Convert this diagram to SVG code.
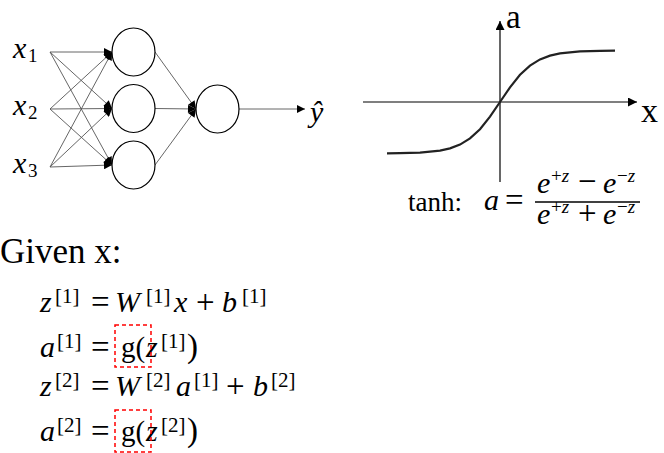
<svg xmlns="http://www.w3.org/2000/svg" width="664" height="453" viewBox="0 0 664 453">
<style>
text{font-family:"Liberation Serif","Times New Roman",serif;fill:#000}
.node{fill:#fff;stroke:#000;stroke-width:1.2}
.edge{stroke:#555;stroke-width:0.9;fill:none}
.axis{stroke:#000;stroke-width:1.2;fill:none}
.mi{font-style:italic;font-size:30px}
.mr{font-size:33px}
.sup{font-size:21px}
.fs{font-size:19px}
.box{fill:none;stroke:#f00;stroke-width:1.5;stroke-dasharray:4 3}
</style>
<defs>
<marker id="ah" viewBox="0 0 10 10" refX="10" refY="5" markerWidth="9" markerHeight="8" markerUnits="userSpaceOnUse" orient="auto"><path d="M0,0 L10,5 L0,10 z" fill="#000"/></marker>
<marker id="ax" viewBox="0 0 10 10" refX="10" refY="5" markerWidth="11" markerHeight="9" markerUnits="userSpaceOnUse" orient="auto"><path d="M0,0 L10,5 L0,10 z" fill="#000"/></marker>
</defs>

<g id="connectors">
<line class="edge" x1="50" y1="52" x2="112" y2="52" marker-end="url(#ah)"/>
<line class="edge" x1="50" y1="52" x2="112" y2="108.5" marker-end="url(#ah)"/>
<line class="edge" x1="50" y1="52" x2="112" y2="165" marker-end="url(#ah)"/>
<line class="edge" x1="50" y1="109" x2="112" y2="52" marker-end="url(#ah)"/>
<line class="edge" x1="50" y1="109" x2="112" y2="108.5" marker-end="url(#ah)"/>
<line class="edge" x1="50" y1="109" x2="112" y2="165" marker-end="url(#ah)"/>
<line class="edge" x1="50" y1="167" x2="112" y2="52" marker-end="url(#ah)"/>
<line class="edge" x1="50" y1="167" x2="112" y2="108.5" marker-end="url(#ah)"/>
<line class="edge" x1="50" y1="167" x2="112" y2="165" marker-end="url(#ah)"/>
<line class="edge" x1="155" y1="52" x2="196" y2="109" marker-end="url(#ah)"/>
<line class="edge" x1="155" y1="108.5" x2="196" y2="109" marker-end="url(#ah)"/>
<line class="edge" x1="155" y1="165" x2="196" y2="109" marker-end="url(#ah)"/>
<line class="edge" x1="239" y1="109" x2="305" y2="109" marker-end="url(#ah)"/>
</g>

<g id="x1"><text class="mi" x="13" y="58">x</text><text x="28" y="62" font-size="19">1</text></g>
<g id="x2"><text class="mi" x="13" y="115">x</text><text x="28" y="119" font-size="19">2</text></g>
<g id="x3"><text class="mi" x="13" y="173">x</text><text x="28" y="177" font-size="19">3</text></g>
<g id="h1"><ellipse class="node" cx="133.5" cy="52" rx="21.5" ry="24"/></g>
<g id="h2"><ellipse class="node" cx="133.5" cy="108.5" rx="21.5" ry="24"/></g>
<g id="h3"><ellipse class="node" cx="133.5" cy="165" rx="21.5" ry="24"/></g>
<g id="out"><ellipse class="node" cx="217.5" cy="109" rx="21.5" ry="24"/></g>
<g id="yhat"><text class="mi" x="310" y="122">ŷ</text></g>

<g id="graph">
<line class="axis" x1="500" y1="182" x2="500" y2="21" marker-end="url(#ax)"/>
<line class="axis" x1="363" y1="102" x2="637" y2="102" marker-end="url(#ax)"/>
<polyline fill="none" stroke="#222" stroke-width="2.2" points="387,153.4 400,153.2 420,152.6 440,150.6 450,148.4 460,144.6 470,138.4 480,129.2 490,116.7 500,102 510,87.3 520,74.8 530,65.6 540,59.4 550,55.6 560,53.4 580,51.4 600,50.8 615,50.6"/>
<text x="506" y="28" font-size="33">a</text>
<text x="641" y="122" font-size="34">x</text>
</g>

<g id="formula">
<text x="408" y="211" font-size="27">tanh:</text>
<text class="mi" x="484" y="210" font-size="29">a</text>
<text class="mr" x="505" y="211" font-size="31">=</text>
<text class="mi" x="537" y="193">e</text>
<text class="fs" x="551" y="182">+<tspan font-style="italic">z</tspan></text>
<text class="mr" x="578" y="192" font-size="26">−</text>
<text class="mi" x="603" y="193">e</text>
<text class="fs" x="617" y="182">−<tspan font-style="italic">z</tspan></text>
<line x1="535" y1="202" x2="640" y2="202" stroke="#000" stroke-width="1.4"/>
<text class="mi" x="537" y="224">e</text>
<text class="fs" x="551" y="213">+<tspan font-style="italic">z</tspan></text>
<text class="mr" x="578" y="224" font-size="27">+</text>
<text class="mi" x="603" y="224">e</text>
<text class="fs" x="617" y="213">−<tspan font-style="italic">z</tspan></text>
</g>

<g id="given">
<text x="0" y="263" font-size="35">Given x:</text>
</g>

<g id="eq1">
<text class="mi" x="40" y="312">z</text><text class="sup" x="55" y="303">[1]</text>
<text class="mr" x="91" y="313">=</text>
<text class="mi" x="115" y="312">W</text><text class="sup" x="146" y="303">[1]</text>
<text class="mi" x="174" y="312">x</text>
<text class="mr" x="196" y="313">+</text>
<text class="mi" x="222" y="312">b</text><text class="sup" x="242" y="303">[1]</text>
</g>
<g id="eq2">
<text class="mi" x="40" y="357">a</text><text class="sup" x="57" y="348">[1]</text>
<text class="mr" x="91" y="358">=</text>
<text x="121" y="357" font-size="29">g(</text>
<text class="mi" x="146" y="357">z</text><text class="sup" x="161" y="348">[1]</text>
<text class="mr" x="187" y="357" font-size="30">)</text>
<rect class="box" x="115" y="325" width="36" height="42"/>
</g>
<g id="eq3">
<text class="mi" x="40" y="396">z</text><text class="sup" x="55" y="387">[2]</text>
<text class="mr" x="91" y="397">=</text>
<text class="mi" x="115" y="396">W</text><text class="sup" x="146" y="387">[2]</text>
<text class="mi" x="176" y="396">a</text><text class="sup" x="194" y="387">[1]</text>
<text class="mr" x="226" y="397">+</text>
<text class="mi" x="253" y="396">b</text><text class="sup" x="271" y="387">[2]</text>
</g>
<g id="eq4">
<text class="mi" x="40" y="441">a</text><text class="sup" x="57" y="432">[2]</text>
<text class="mr" x="91" y="442">=</text>
<text x="121" y="441" font-size="29">g(</text>
<text class="mi" x="146" y="441">z</text><text class="sup" x="161" y="432">[2]</text>
<text class="mr" x="187" y="441" font-size="30">)</text>
<rect class="box" x="115" y="410" width="36" height="42"/>
</g>
</svg>
